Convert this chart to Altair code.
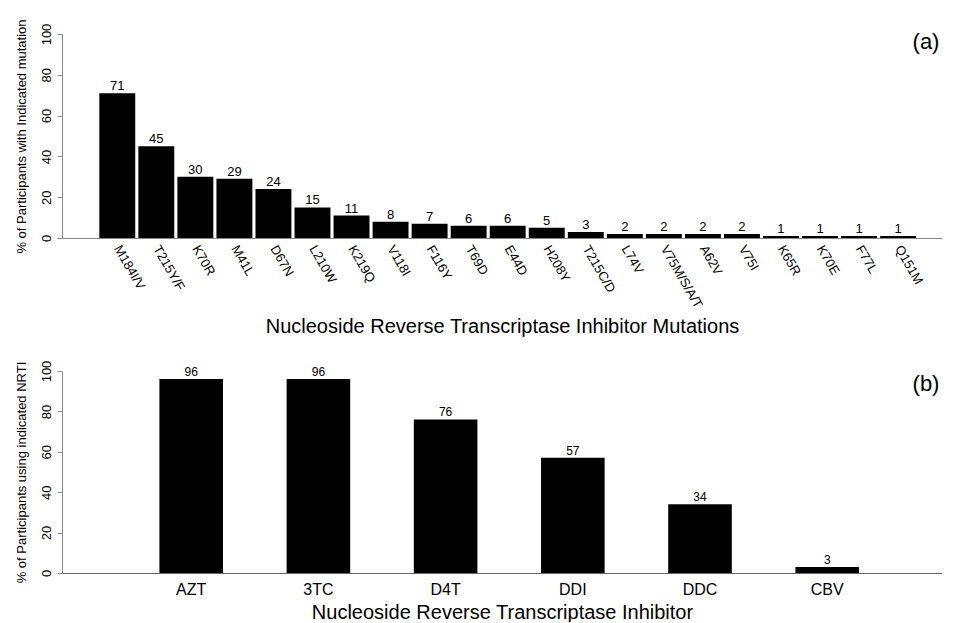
import altair as alt
import pandas as pd

mutations = ["M184I/V", "T215Y/F", "K70R", "M41L", "D67N", "L210W", "K219Q", "V118I",
             "F116Y", "T69D", "E44D", "H208Y", "T215C/D", "L74V", "V75M/S/A/T", "A62V",
             "V75I", "K65R", "K70E", "F77L", "Q151M"]
mutation_pct = [71, 45, 30, 29, 24, 15, 11, 8, 7, 6, 6, 5, 3, 2, 2, 2, 2, 1, 1, 1, 1]

nrti = ["AZT", "3TC", "D4T", "DDI", "DDC", "CBV"]
nrti_pct = [96, 96, 76, 57, 34, 3]

y_ticks = [0, 20, 40, 60, 80, 100]
panel_labels = ["(a)", "(b)"]

FONT = "Liberation Sans"
W = 880
HA = 204
HB = 202
AXC = "#888888"

df_a = pd.DataFrame({"mutation": mutations, "pct": mutation_pct})
df_b = pd.DataFrame({"nrti": nrti, "pct": nrti_pct})


def y_axis(title):
    return alt.Axis(values=y_ticks, title=title, labelAngle=270, labelAlign="center",
                    labelBaseline="bottom", labelFontSize=13, labelPadding=4,
                    tickSize=5, tickColor=AXC, domainColor=AXC, titleFontSize=13,
                    titleFontWeight="normal", titlePadding=12, grid=False)


ya = alt.Y("pct:Q", scale=alt.Scale(domain=[0, 100], nice=False),
           axis=y_axis("% of Participants with Indicated mutation"))
xa = alt.X("mutation:N", sort=mutations,
           scale=alt.Scale(paddingInner=0.08, paddingOuter=0.81, align=0.59),
           axis=alt.Axis(title="Nucleoside Reverse Transcriptase Inhibitor Mutations",
                         labelAngle=60, labelAlign="left", labelBaseline="middle",
                         labelFontSize=13, labelPadding=8, ticks=False, domainColor=AXC,
                         titleFontSize=20, titleFontWeight="normal", titlePadding=6,
                         labelOverlap=False))

base_a = alt.Chart(df_a).encode(x=xa, y=ya)
bars_a = base_a.mark_bar(color="black")
text_a = base_a.mark_text(baseline="alphabetic", dy=-3, fontSize=13, color="black").encode(text="pct:Q")
lab_a = alt.Chart(pd.DataFrame({"t": [panel_labels[0]]})).mark_text(
    fontSize=22, align="center", baseline="middle", color="black"
).encode(x=alt.value(864), y=alt.value(8), text="t:N")
chart_a = alt.layer(bars_a, text_a, lab_a).properties(width=W, height=HA)

yb = alt.Y("pct:Q", scale=alt.Scale(domain=[0, 100], nice=False),
           axis=y_axis("% of Participants using indicated NRTI"))
xb = alt.X("nrti:N", sort=nrti,
           scale=alt.Scale(paddingInner=0.5, paddingOuter=0.709, align=0.54),
           axis=alt.Axis(title="Nucleoside Reverse Transcriptase Inhibitor",
                         labelAngle=0, labelFontSize=16, labelPadding=8, ticks=False,
                         domainColor="#666666", titleFontSize=20, titleFontWeight="normal",
                         titlePadding=5))
base_b = alt.Chart(df_b).encode(x=xb, y=yb)
bars_b = base_b.mark_bar(color="black")
text_b = base_b.mark_text(baseline="alphabetic", dy=-3, fontSize=12, color="black").encode(text="pct:Q")
lab_b = alt.Chart(pd.DataFrame({"t": [panel_labels[1]]})).mark_text(
    fontSize=22, align="center", baseline="middle", color="black"
).encode(x=alt.value(864), y=alt.value(13), text="t:N")
chart_b = alt.layer(bars_b, text_b, lab_b).properties(width=W, height=HB)

chart = alt.vconcat(chart_a, chart_b, spacing=23).properties(
    padding={"left": 6, "top": 10, "right": 0, "bottom": 0}
).configure(font=FONT).configure_view(stroke=None).configure_axis(
    labelColor="black", titleColor="black", labelFont=FONT, titleFont=FONT
)

chart.save("out.html", embed_options={"renderer": "svg", "actions": False})
